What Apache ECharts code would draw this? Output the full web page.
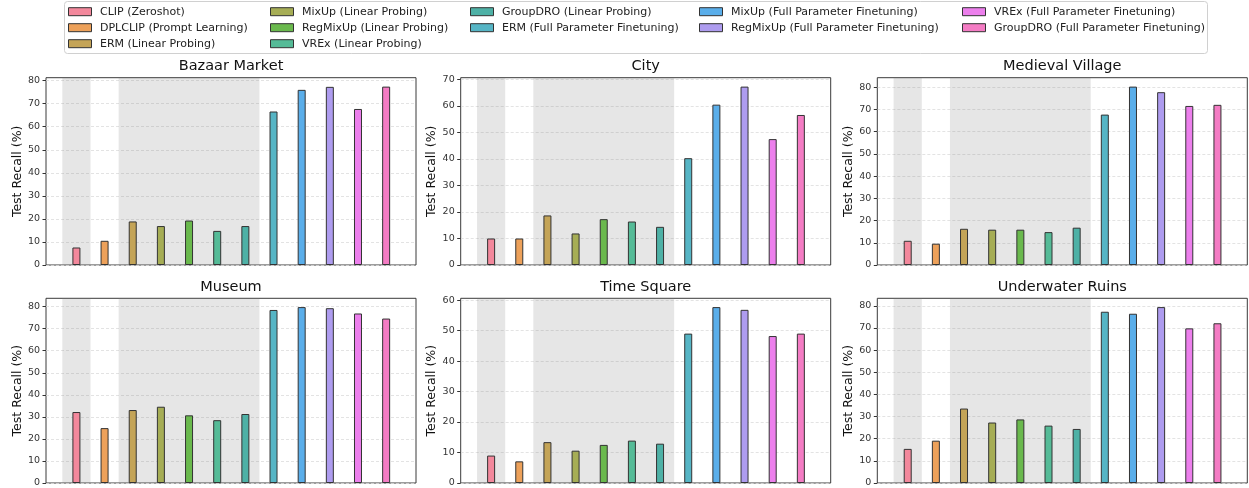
<!DOCTYPE html>
<html>
<head>
<meta charset="utf-8">
<script src="https://cdn.jsdelivr.net/npm/echarts@6/dist/echarts.min.js"></script>
<style>
html,body{margin:0;padding:0;background:#fff;}
#chart{width:1249px;height:488px;}
</style>
</head>
<body>
<div id="chart"></div>
<script>
// ---- data ----
const methods = [
  'CLIP (Zeroshot)',
  'DPLCLIP (Prompt Learning)',
  'ERM (Linear Probing)',
  'MixUp (Linear Probing)',
  'RegMixUp (Linear Probing)',
  'VREx (Linear Probing)',
  'GroupDRO (Linear Probing)',
  'ERM (Full Parameter Finetuning)',
  'MixUp (Full Parameter Finetuning)',
  'RegMixUp (Full Parameter Finetuning)',
  'VREx (Full Parameter Finetuning)',
  'GroupDRO (Full Parameter Finetuning)'
];
const scenes = ['Bazaar Market', 'City', 'Medieval Village', 'Museum', 'Time Square', 'Underwater Ruins'];

const bazaarMarket    = [7.6, 10.5, 18.9, 16.9, 19.3, 14.8, 16.9, 66.6, 76.0, 77.3, 67.7, 77.4];
const city            = [10.0, 10.0, 18.7, 11.9, 17.3, 16.4, 14.4, 40.3, 60.5, 67.3, 47.5, 56.6];
const medievalVillage = [10.9, 9.6, 16.3, 15.9, 15.9, 14.8, 16.8, 67.7, 80.3, 77.8, 71.6, 72.1];
const museum          = [32.2, 24.9, 33.1, 34.6, 30.7, 28.5, 31.3, 78.5, 79.8, 79.3, 76.9, 74.6];
const timeSquare      = [9.0, 7.1, 13.4, 10.6, 12.5, 13.9, 12.9, 49.0, 57.7, 56.8, 48.2, 49.0];
const underwaterRuins = [15.4, 19.1, 33.6, 27.3, 28.7, 25.9, 24.4, 77.3, 76.4, 79.4, 69.8, 72.1];

// groups of method indices that get a shaded background (zero-shot, linear probing)
const shadedGroups = [[0, 0], [2, 6]];
const yTickStep = 10;

// ---- styling / layout ----
const sceneValues = [bazaarMarket, city, medievalVillage, museum, timeSquare, underwaterRuins];
const palette = ['#f3889c', '#eda15a', '#c4a457', '#a6ad55', '#6ab94d', '#55bb97',
                 '#4eb1a6', '#56b5c5', '#5aaeea', '#ae9cef', '#ec7fec', '#f47cc4'];
const FONT = 'DejaVu Sans';
const gridLefts = [46, 460.7, 877.3];
const gridTops = [77.7, 298.3];
const gridW = 370, gridH = 187.3;

const grids = [], xAxes = [], yAxes = [], titles = [], series = [];
sceneValues.forEach((vals, p) => {
  const left = gridLefts[p % 3];
  const top = gridTops[Math.floor(p / 3)];
  grids.push({left: left, top: top, width: gridW, height: gridH, show: true,
    borderColor: '#3a3a3a', borderWidth: 1, backgroundColor: 'transparent', containLabel: false});
  xAxes.push({type: 'value', gridIndex: p, min: -1.08, max: 12.06, show: false});
  const ymax = Math.max(...vals) * 1.05;
  const ticks = [];
  for (let t = 0; t <= ymax; t += yTickStep) ticks.push(t);
  yAxes.push({
    type: 'value', gridIndex: p, min: 0, max: ymax, interval: yTickStep,
    axisLine: {show: false, onZero: false},
    axisTick: {show: true, inside: false, length: 3.5, lineStyle: {color: '#333', width: 1}, customValues: ticks},
    axisLabel: {fontSize: 9.5, color: '#333', margin: 6, fontFamily: FONT, customValues: ticks,
      formatter: v => (v % yTickStep === 0 ? String(v) : '')},
    splitLine: {show: true, lineStyle: {type: [3, 2], color: '#dcdcdc', width: 0.8}},
    name: 'Test Recall (%)', nameLocation: 'middle', nameGap: 21,
    nameTextStyle: {fontSize: 12.5, color: '#111', fontFamily: FONT}
  });
  titles.push({text: scenes[p], left: left + gridW / 2, top: top - 18.5, textAlign: 'center', padding: 0,
    textStyle: {fontSize: 14.5, fontWeight: 'normal', color: '#111', fontFamily: FONT}});
  methods.forEach((m, i) => {
    const s = {
      type: 'bar', name: m, xAxisIndex: p, yAxisIndex: p,
      data: [[i, vals[i]]], barWidth: 8, barGap: '-100%',
      itemStyle: {color: palette[i], borderColor: '#333', borderWidth: 1},
      emphasis: {disabled: true}, z: 3
    };
    if (i === 0) {
      s.markArea = {
        silent: true,
        itemStyle: {color: 'rgba(128,128,128,0.2)'},
        label: {show: false},
        data: shadedGroups.map(g => [{xAxis: g[0] - 0.5}, {xAxis: g[1] + 0.5}])
      };
    }
    series.push(s);
  });
});

const legendCols = [[0, 1, 2], [3, 4, 5], [6, 7], [8, 9], [10, 11]];
const legendLefts = [68, 270, 470, 699, 962];
const legends = legendCols.map((col, c) => ({
  orient: 'vertical', left: legendLefts[c], top: 3.7, padding: 0, itemGap: 0,
  itemWidth: 23, itemHeight: 8, selectedMode: false, icon: 'rect',
  itemStyle: {borderColor: '#333', borderWidth: 1},
  textStyle: {fontSize: 11, color: '#222', fontFamily: FONT, lineHeight: 16, padding: [0, 0, 0, 3.5]},
  data: col.map(i => methods[i])
}));

const chart = echarts.init(document.getElementById('chart'), null, {renderer: 'canvas'});
chart.setOption({
  animation: false,
  backgroundColor: '#fff',
  textStyle: {fontFamily: FONT},
  title: titles,
  legend: legends,
  grid: grids,
  xAxis: xAxes,
  yAxis: yAxes,
  graphic: [{
    type: 'rect', z: 0, silent: true,
    shape: {x: 64.5, y: 1.5, width: 1143, height: 52, r: 3},
    style: {fill: '#fff', stroke: '#d0d0d0', lineWidth: 1}
  }],
  series: series
});
</script>
</body>
</html>
